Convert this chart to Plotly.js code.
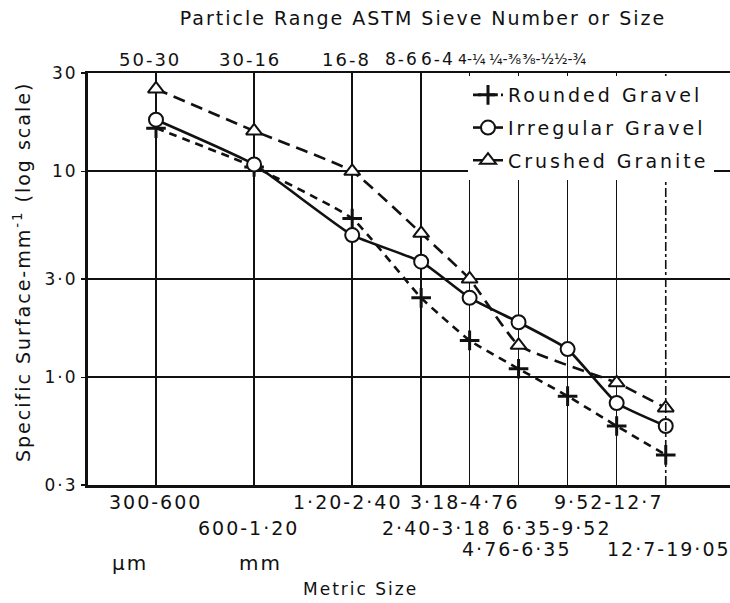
<!DOCTYPE html>
<html>
<head>
<meta charset="utf-8">
<script src="https://cdn.plot.ly/plotly-3.0.1.min.js"></script>
<style>
  html, body { margin: 0; padding: 0; background: #fff; }
  #chart { width: 730px; height: 603px; }
  svg text { letter-spacing: 2px; }
  .legendtext { letter-spacing: 3px; }
  text[data-unformatted*="¼"], text[data-unformatted*="½"], text[data-unformatted*="⅜"] { letter-spacing: 0; }
</style>
</head>
<body>
<div id="chart"></div>
<script>
// ---- data ----
// metric size ranges (mm); x position = geometric mean of each range
var rangeLow  = [0.30, 0.60, 1.20, 2.40, 3.18, 4.76, 6.35, 9.52, 12.7];
var rangeHigh = [0.60, 1.20, 2.40, 3.18, 4.76, 6.35, 9.52, 12.7, 19.05];
var metricLabels = ['300-600', '600-1·20', '1·20-2·40', '2·40-3·18', '3·18-4·76',
                    '4·76-6·35', '6·35-9·52', '9·52-12·7', '12·7-19·05'];
var sieveLabels = ['50-30', '30-16', '16-8', '8-6', '6-4', '4-¼', '¼-⅜', '⅜-½', '½-¾'];

var roundedGravel   = [16.2, 10.5, 5.9, 2.43, 1.51, 1.10, 0.81, 0.58, 0.42];
var irregularGravel = [17.8, 10.8, 4.9, 3.64, 2.43, 1.85, 1.37, 0.75, 0.58];
var crushedGranite  = [25.1, 15.7, 10.0, 5.0, 3.0, 1.43, null, 0.94, 0.71];

var yTickVals = [0.3, 1, 3, 10, 30];
var yTickText = ['0·3', '1·0', '3·0', '10', '30'];

// ---- layout helpers (positions, not data) ----
var W = 730, H = 603, L = 88, R = 0, T = 73, B = 118;
var plotW = W - L - R;
function px2paperX(px) { return (px - L) / plotW; }
function px2paperY(py) { return (H - B - py) / (H - T - B); }

var xs = rangeLow.map(function (lo, i) { return Math.sqrt(lo * rangeHigh[i]); });

var font = 'DejaVu Sans, Verdana, sans-serif';
var ink = '#111';

var traces = [
  {
    x: xs, y: roundedGravel, name: 'Rounded Gravel', legendgroup: 'a', type: 'scatter', mode: 'lines+markers',
    line: { color: ink, width: 2.6, dash: '8px,6px', shape: 'spline', smoothing: 0.4 },
    marker: { symbol: 'cross-thin-open', size: 14, color: ink, line: { color: ink, width: 3 } }
  },
  {
    x: xs, y: irregularGravel, name: 'Irregular Gravel', legendgroup: 'b', type: 'scatter', mode: 'lines+markers',
    line: { color: ink, width: 2.6, shape: 'spline', smoothing: 0.4 },
    marker: { symbol: 'circle', size: 14, color: '#fff', line: { color: ink, width: 2 } }
  },
  {
    x: xs, y: crushedGranite, name: 'Crushed Granite', legendgroup: 'c', type: 'scatter', mode: 'lines+markers',
    connectgaps: true,
    line: { color: ink, width: 2.6, dash: '12px,7px', shape: 'spline', smoothing: 0.4 },
    marker: { symbol: 'triangle-up', size: 14, color: '#fff', line: { color: ink, width: 2 } }
  },
  {
    // last vertical grid line, drawn dash-dot as in the reference
    x: [xs[xs.length - 1], xs[xs.length - 1]], y: [yTickVals[0], yTickVals[yTickVals.length - 1]],
    type: 'scatter', mode: 'lines', showlegend: false, hoverinfo: 'skip',
    line: { color: ink, width: 1.6, dash: 'dashdot' }
  }
];

var annotations = [];
// bottom metric-size labels, staggered in rows
var rowY = [502, 528, 549];
var rowOf = [0, 1, 0, 1, 0, 2, 1, 0, 2];
var shiftOf = [0, -6, -5, 15, -5, -2, -11, -8, 3];
metricLabels.forEach(function (t, i) {
  annotations.push({
    text: t, x: Math.log10(xs[i]), xref: 'x', y: px2paperY(rowY[rowOf[i]]), yref: 'paper',
    xshift: shiftOf[i], showarrow: false, xanchor: 'center', yanchor: 'middle',
    font: { family: font, size: 19, color: ink }
  });
});
// unit labels and axis title
annotations.push({ text: 'µm', x: px2paperX(130), y: px2paperY(563), xref: 'paper', yref: 'paper',
  xanchor: 'center', yanchor: 'middle', showarrow: false, font: { family: font, size: 20, color: ink } });
annotations.push({ text: 'mm', x: px2paperX(260), y: px2paperY(563), xref: 'paper', yref: 'paper',
  xanchor: 'center', yanchor: 'middle', showarrow: false, font: { family: font, size: 20, color: ink } });
annotations.push({ text: 'Metric Size', x: px2paperX(360), y: px2paperY(589), xref: 'paper', yref: 'paper',
  xanchor: 'center', yanchor: 'middle', showarrow: false, font: { family: font, size: 17, color: ink } });
// top sieve labels
var sieveX = [150, 250, 346, 402, 438, 472, 505, 538, 570];
var sieveSize = [18, 18, 18, 17, 17, 14, 14, 14, 14];
sieveLabels.forEach(function (t, i) {
  annotations.push({
    text: t, x: px2paperX(sieveX[i]), y: px2paperY(59), xref: 'paper', yref: 'paper',
    showarrow: false, xanchor: 'center', yanchor: 'middle',
    font: { family: font, size: sieveSize[i], color: ink }
  });
});
// y axis title
annotations.push({
  text: 'Specific Surface-mm<sup>-1</sup> (log scale)', textangle: -90,
  x: px2paperX(22), y: px2paperY(272), xref: 'paper', yref: 'paper',
  showarrow: false, xanchor: 'center', yanchor: 'middle',
  font: { family: font, size: 19, color: ink }
});

var layout = {
  width: W, height: H,
  margin: { l: L, r: R, t: T, b: B, pad: 0 },
  paper_bgcolor: '#fff', plot_bgcolor: '#fff',
  font: { family: font, color: ink },
  title: { text: 'Particle Range ASTM Sieve Number or Size', x: 423 / W, xref: 'container', xanchor: 'center',
           y: 1 - 18 / H, yanchor: 'middle', font: { family: font, size: 19, color: ink } },
  xaxis: {
    type: 'log', range: [-0.581, 1.389],
    tickvals: xs.slice(0, -1), showticklabels: false, ticks: '',
    showgrid: true, gridcolor: ink, gridwidth: 1.6,
    showline: true, linecolor: ink, linewidth: 2.5, mirror: true,
    zeroline: false, fixedrange: true
  },
  yaxis: {
    type: 'log', range: [Math.log10(0.3), Math.log10(30)],
    tickvals: yTickVals, ticktext: yTickText, ticks: 'outside', ticklen: 4, tickwidth: 1.5, tickcolor: ink,
    tickfont: { family: font, size: 17, color: ink },
    showgrid: true, gridcolor: ink, gridwidth: 1.6,
    showline: true, linecolor: ink, linewidth: 3, mirror: false,
    zeroline: false, fixedrange: true
  },
  legend: {
    x: px2paperX(468), xanchor: 'left', y: px2paperY(76), yanchor: 'top',
    bgcolor: '#fff', borderwidth: 0, itemwidth: 30, tracegroupgap: 5,
    font: { family: font, size: 19, color: ink }
  },
  showlegend: true,
  annotations: annotations
};

Plotly.newPlot('chart', traces, layout, { displayModeBar: false, staticPlot: true });
</script>
</body>
</html>
